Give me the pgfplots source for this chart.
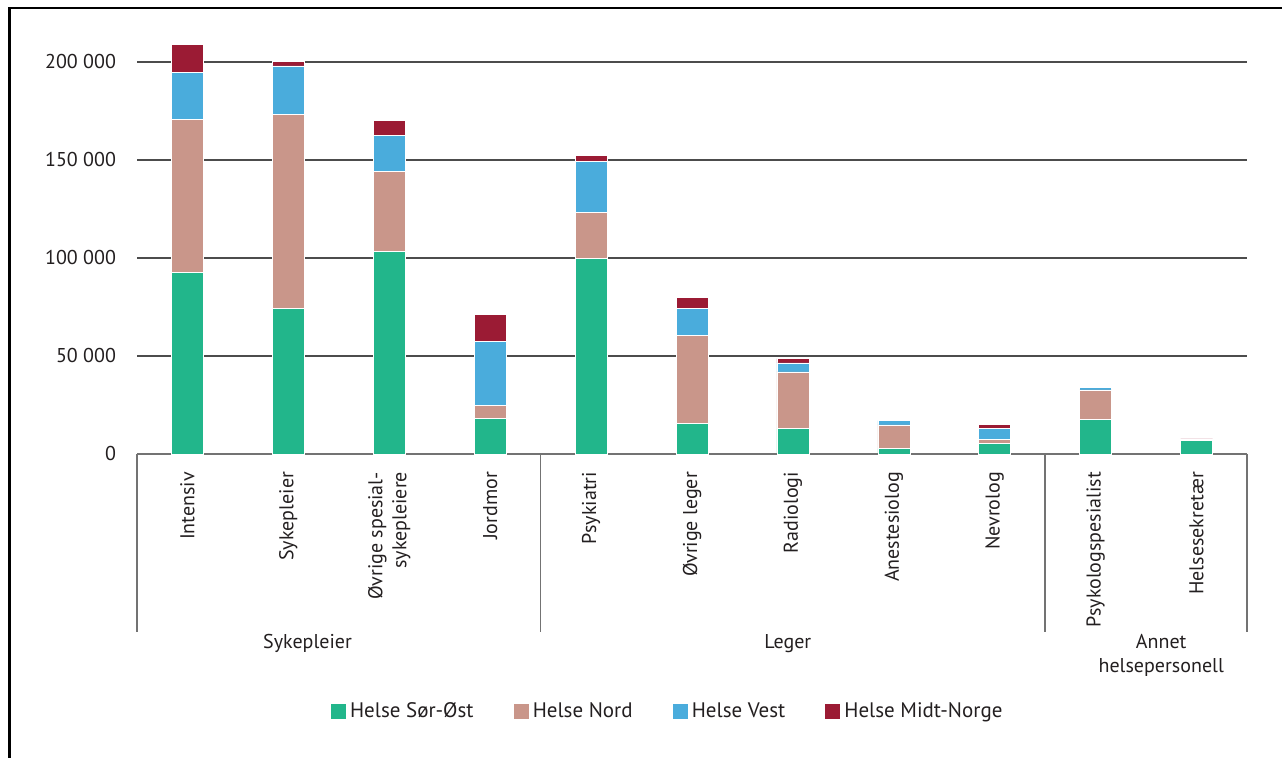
\documentclass[border=0pt]{standalone}
\usepackage{fontspec}
\setmainfont{PT Sans}
\usepackage{pgfplots}
\pgfplotsset{compat=1.18}
\definecolor{cSO}{RGB}{34,182,139}
\definecolor{cNo}{RGB}{201,150,138}
\definecolor{cVe}{RGB}{74,172,220}
\definecolor{cMi}{RGB}{155,27,52}
\definecolor{txt}{RGB}{35,31,32}
\begin{document}
\begin{tikzpicture}[font=\fontsize{10pt}{12pt}\selectfont, text=txt]
\begin{axis}[
  at={(68.5pt,152pt)}, anchor=south west,
  scale only axis, width=555pt, height=210.7pt,
  ybar stacked, bar width=16pt,
  xmin=-0.5, xmax=10.5, ymin=0, ymax=215000,
  xtick={0,...,10},
  xticklabels={Intensiv,Sykepleier,{Øvrige spesial-\\sykepleiere},Jordmor,Psykiatri,Øvrige leger,Radiologi,Anestesiolog,Nevrolog,Psykologspesialist,Helsesekretær},
  xticklabel style={rotate=90, anchor=east, align=right, text=txt, xshift=-5.5pt},
  ytick={0,50000,100000,150000,200000},
  scaled y ticks=false,
  yticklabels={0,50 000,100 000,150 000,200 000},
  yticklabel style={text=txt, xshift=-7pt},
  axis x line*=bottom, axis y line*=left,
  y axis line style={draw=none},
  x axis line style={draw=black!55, line width=0.8pt},
  tick style={draw=none},
  ymajorgrids, major grid style={draw=black!70, line width=0.6pt},
  clip=false,
  every axis plot/.append style={draw=white, line width=0.3pt},
  legend columns=4,
  legend style={at={(0.479,-0.612)}, anchor=center, draw=none, fill=none,
    font=\fontsize{10.5pt}{12pt}\selectfont,
    /tikz/every even column/.append style={column sep=18pt}},
  legend image code/.code={\fill[#1,draw=none] (0pt,-3.8pt) rectangle (7.6pt,3.8pt);},
]
\addplot[fill=cSO] coordinates {(0,92600) (1,74200) (2,103300) (3,18300) (4,99700) (5,15500) (6,12900) (7,2700) (8,5300) (9,17700) (10,7000)};
\addplot[fill=cNo] coordinates {(0,78200) (1,99200) (2,40900) (3,6300) (4,23600) (5,44900) (6,29000) (7,12100) (8,2000) (9,15000) (10,0)};
\addplot[fill=cVe] coordinates {(0,23700) (1,24600) (2,18300) (3,32700) (4,26100) (5,13800) (6,4600) (7,2200) (8,5800) (9,1200) (10,0)};
\addplot[fill=cMi] coordinates {(0,14500) (1,2500) (2,7800) (3,13800) (4,3100) (5,5600) (6,2100) (7,0) (8,2100) (9,700) (10,700)};
\legend{Helse Sør-Øst, Helse Nord, Helse Vest, Helse Midt-Norge}
\draw[black!55, line width=0.8pt] (axis cs:-0.5,0) -- (axis cs:-0.5,-91000);
\draw[black!55, line width=0.8pt] (axis cs:3.5,0) -- (axis cs:3.5,-91000);
\draw[black!55, line width=0.8pt] (axis cs:8.5,0) -- (axis cs:8.5,-91000);
\draw[black!55, line width=0.8pt] (axis cs:10.5,0) -- (axis cs:10.5,-91000);
\node[anchor=north, text=txt] at (axis cs:1.19,-88300) {Sykepleier};
\node[anchor=north, text=txt] at (axis cs:5.95,-88300) {Leger};
\node[anchor=north, text=txt, align=center] at (axis cs:9.65,-88300) {Annet\\helsepersonell};
\end{axis}
\pgfresetboundingbox
\path[use as bounding box] (0,0) rectangle (642pt,379pt);
\draw[black, line width=1.35pt] (4.8pt,0) -- (4.8pt,375pt) -- (641pt,375pt);
\end{tikzpicture}
\end{document}
